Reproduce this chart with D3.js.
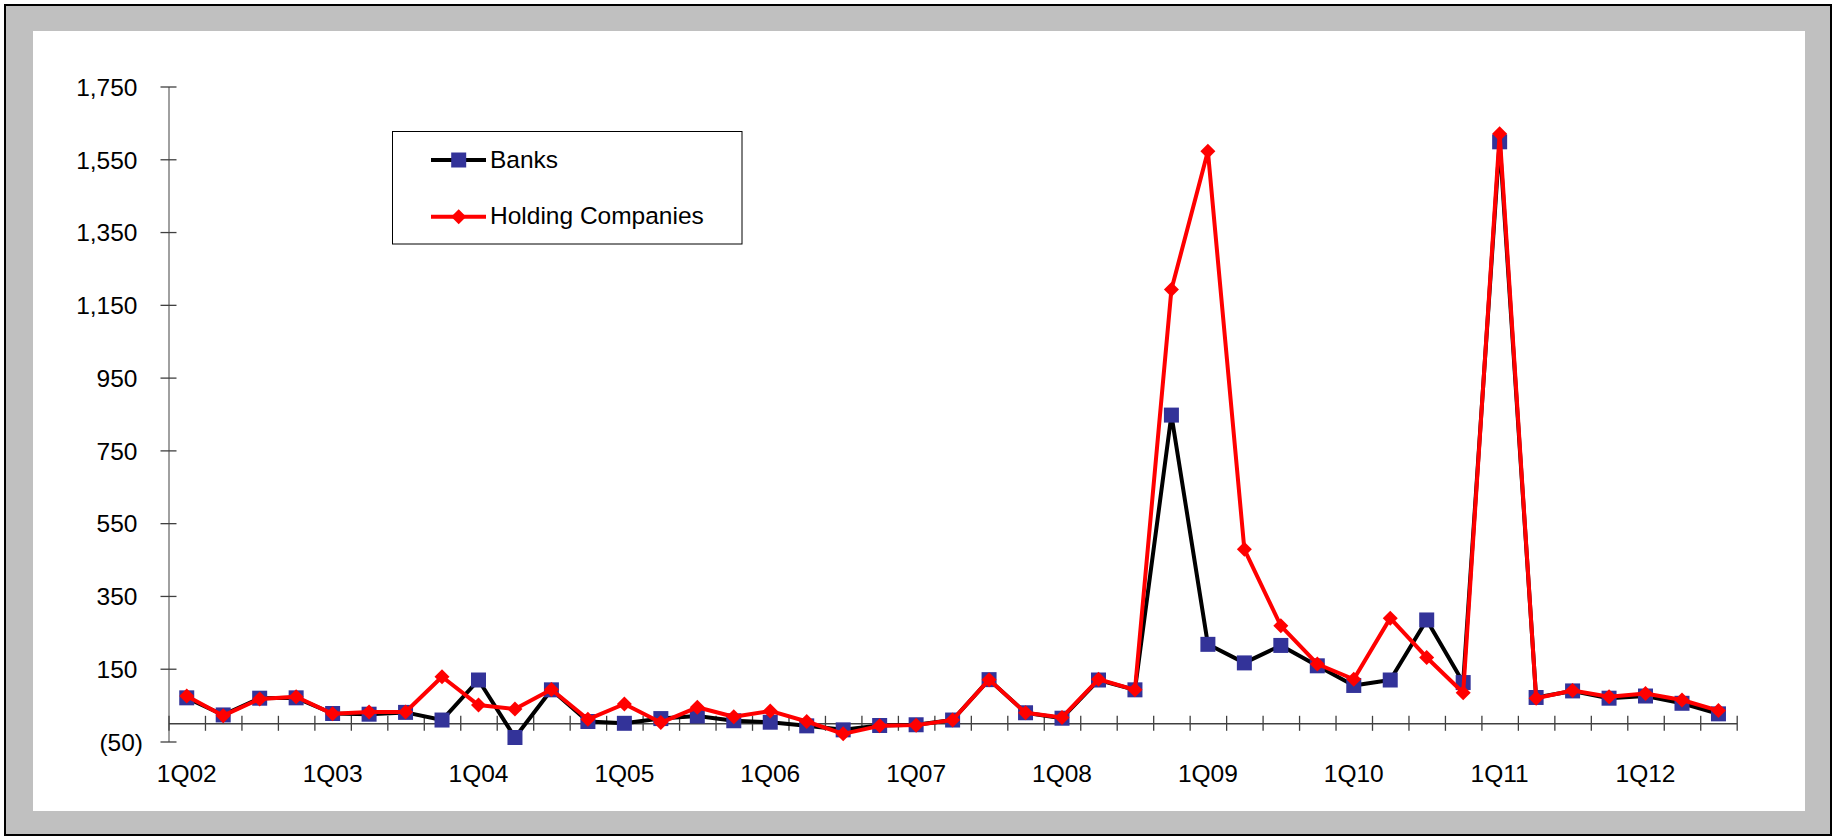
<!DOCTYPE html>
<html>
<head>
<meta charset="utf-8">
<script src="https://cdn.jsdelivr.net/npm/d3@7"></script>
<style>
  html, body { margin: 0; padding: 0; background: #fff; }
  svg { display: block; font-family: "Liberation Sans", Arial, Helvetica, sans-serif; }
</style>
</head>
<body>
<svg id="chart" width="1835" height="837"></svg>
<script>
// Quarterly series, 1Q02 through 3Q12
const quarters = [
  "1Q02","2Q02","3Q02","4Q02","1Q03","2Q03","3Q03","4Q03",
  "1Q04","2Q04","3Q04","4Q04","1Q05","2Q05","3Q05","4Q05",
  "1Q06","2Q06","3Q06","4Q06","1Q07","2Q07","3Q07","4Q07",
  "1Q08","2Q08","3Q08","4Q08","1Q09","2Q09","3Q09","4Q09",
  "1Q10","2Q10","3Q10","4Q10","1Q11","2Q11","3Q11","4Q11",
  "1Q12","2Q12","3Q12"
];
const banks = [
  70, 23, 69, 70, 27, 25, 30, 9,
  119, -39, 92, 5, 0, 13, 20, 7,
  3, -7, -18, -6, -4, 9, 120, 29,
  14, 119, 92, 847, 217, 166, 214, 158,
  104, 119, 284, 112, 1598, 71, 89, 69,
  75, 55, 26
];
const holdingCompanies = [
  75, 21, 67, 73, 26, 31, 31, 128,
  50, 39, 93, 11, 53, 2, 44, 18,
  34, 5, -29, -7, -5, 9, 120, 29,
  16, 121, 92, 1192, 1572, 478, 268, 163,
  121, 289, 181, 84, 1620, 69, 90, 73,
  82, 64, 35
];
const yTicks = [-50, 150, 350, 550, 750, 950, 1150, 1350, 1550, 1750];
const xTickLabels = ["1Q02","1Q03","1Q04","1Q05","1Q06","1Q07","1Q08","1Q09","1Q10","1Q11","1Q12"];

const FONT = 24.5;
const plot = { left: 168.5, right: 1736.7, top: 86.5, bottom: 741.5 };

const svg = d3.select("#chart");

// Outer frame: grey border with black outline, white chart area inside
svg.append("rect")
  .attr("x", 5).attr("y", 5).attr("width", 1826).attr("height", 830)
  .attr("fill", "#c0c0c0").attr("stroke", "#000").attr("stroke-width", 2);
svg.append("rect")
  .attr("x", 33).attr("y", 31).attr("width", 1772).attr("height", 780)
  .attr("fill", "#fff");

// Scales
const x = d3.scaleBand().domain(quarters).range([plot.left, plot.right]).padding(0);
const xEdge = d3.scaleLinear().domain([0, quarters.length]).range([plot.left, plot.right]);
const y = d3.scaleLinear().domain([-50, 1750]).range([plot.bottom, plot.top]);
const cx = q => x(q) + x.bandwidth() / 2;

const numFmt = d3.format(",");
const yFmt = v => v < 0 ? "(" + numFmt(-v) + ")" : numFmt(v);

// Y axis with crossing tick marks
const yAxis = svg.append("g")
  .attr("transform", `translate(${plot.left},0)`)
  .call(d3.axisLeft(y).tickValues(yTicks).tickSize(8).tickSizeOuter(0).tickFormat(yFmt));
yAxis.attr("font-size", FONT).attr("font-family", null);
yAxis.select(".domain").attr("stroke", "#808080").attr("stroke-width", 1.5);
yAxis.selectAll(".tick line").attr("x1", 8).attr("stroke", "#404040").attr("stroke-width", 1.3);
yAxis.selectAll(".tick text")
  .attr("fill", "#000")
  .attr("x", d => d < 0 ? -25.5 : -31)
  .attr("dy", "0.36em");

// X axis line at zero with tick marks between quarters
const xAxis = svg.append("g")
  .attr("transform", `translate(0,${y(0)})`)
  .call(d3.axisBottom(xEdge).tickValues(d3.range(quarters.length + 1))
    .tickSize(7.5).tickSizeOuter(0).tickFormat(""));
xAxis.select(".domain").attr("stroke", "#404040").attr("stroke-width", 1.5);
xAxis.selectAll(".tick line").attr("y1", -7.5).attr("stroke", "#404040").attr("stroke-width", 1.3);

// Quarter labels along the bottom
const xLabels = svg.append("g")
  .attr("transform", "translate(0,0)")
  .call(d3.axisBottom(x).tickValues(xTickLabels).tickSize(0));
xLabels.attr("font-size", FONT).attr("font-family", null);
xLabels.select(".domain").remove();
xLabels.selectAll(".tick text").attr("fill", "#000").attr("y", 781.5).attr("dy", null);

// Series
const lineGen = d3.line().x((d, i) => cx(quarters[i])).y(d => y(d));
const squareSym = d3.symbol(d3.symbolSquare, 225);
const diamondSym = d3.symbol(d3.symbolSquare, 112.5);

// Banks: black line, navy square markers
svg.append("path").datum(banks)
  .attr("fill", "none").attr("stroke", "#000").attr("stroke-width", 4)
  .attr("stroke-linejoin", "round").attr("d", lineGen);
svg.append("g").selectAll("path").data(banks).join("path")
  .attr("d", squareSym)
  .attr("transform", (d, i) => `translate(${cx(quarters[i])},${y(d)})`)
  .attr("fill", "#333399");

// Holding Companies: red line, red diamond markers
svg.append("path").datum(holdingCompanies)
  .attr("fill", "none").attr("stroke", "#ff0000").attr("stroke-width", 4)
  .attr("stroke-linejoin", "round").attr("d", lineGen);
svg.append("g").selectAll("path").data(holdingCompanies).join("path")
  .attr("d", diamondSym)
  .attr("transform", (d, i) => `translate(${cx(quarters[i])},${y(d)}) rotate(45)`)
  .attr("fill", "#ff0000");

// Legend
const legend = svg.append("g");
legend.append("rect")
  .attr("x", 392.5).attr("y", 131.5).attr("width", 349.5).attr("height", 112.5)
  .attr("fill", "#fff").attr("stroke", "#000").attr("stroke-width", 1);
const legendItems = [
  { name: "Banks", color: "#000", marker: squareSym, markerColor: "#333399", rot: 0, cy: 160 },
  { name: "Holding Companies", color: "#ff0000", marker: diamondSym, markerColor: "#ff0000", rot: 45, cy: 216.7 }
];
const li = legend.selectAll("g.item").data(legendItems).join("g").attr("class", "item");
li.append("line")
  .attr("x1", 431).attr("x2", 486)
  .attr("y1", d => d.cy).attr("y2", d => d.cy)
  .attr("stroke", d => d.color).attr("stroke-width", 4);
li.append("path")
  .attr("d", d => d.marker())
  .attr("transform", d => `translate(458.7,${d.cy}) rotate(${d.rot})`)
  .attr("fill", d => d.markerColor);
li.append("text")
  .attr("x", 490).attr("y", d => d.cy + 7.6)
  .attr("font-size", FONT).attr("fill", "#000")
  .text(d => d.name);
</script>
</body>
</html>
